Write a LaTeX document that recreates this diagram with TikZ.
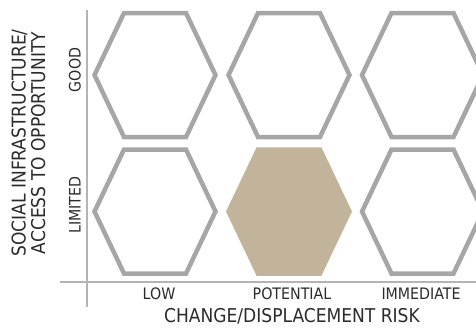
\documentclass[tikz,border=0pt]{standalone}
\usepackage{fontspec}
\setmainfont{DejaVu Sans Condensed}
\definecolor{hexgrey}{HTML}{A6A6A6}
\definecolor{axisgrey}{HTML}{B4B4B4}
\definecolor{sand}{HTML}{C2B49A}
\definecolor{ink}{HTML}{2B2B2B}
\begin{document}
\begin{tikzpicture}[x=1pt,y=-1pt]

% half width, half height and half top edge of each hexagon
\def\hw{60.5}
\def\hh{62}
\def\ht{31}
% hexagon and axis styles
\tikzstyle{hexline} = [draw=hexgrey, line width=4.5pt, line join=miter];
\tikzstyle{hexfull} = [hexline, draw=sand, fill=sand];
\tikzstyle{axis} = [draw=axisgrey, line width=2pt];
\tikzstyle{lbl} = [text=ink, inner sep=0pt, anchor=base, font=\fontsize{15.8}{18}\selectfont];
\tikzstyle{title} = [text=ink, inner sep=0pt, anchor=base, font=\fontsize{19}{22}\selectfont];

\useasboundingbox (0,0) rectangle (476,333);

% axes
\coordinate (ytop) at (87,10);
\coordinate (ybot) at (87,307);
\coordinate (xleft) at (60,282);
\coordinate (xright) at (476,282);
\draw[axis] (ytop) -- (ybot);
\draw[axis] (xleft) -- (xright);

% grid of hexagons
\foreach \cx/\cy/\st in {155/75/hexline, 289/75/hexline, 422.5/75/hexline,
                         155/211.5/hexline, 289/211.5/hexfull, 422.5/211.5/hexline}
  \draw[\st] ({\cx-\hw},\cy) -- ({\cx-\ht},{\cy-\hh}) -- ({\cx+\ht},{\cy-\hh})
    -- ({\cx+\hw},\cy) -- ({\cx+\ht},{\cy+\hh}) -- ({\cx-\ht},{\cy+\hh}) -- cycle;

% labels (placed on their baselines)
\node[lbl,rotate=90] (good) at (80.5,70) {GOOD};
\node[lbl,rotate=90] (limited) at (80.5,205) {LIMITED};
\node[lbl] (low) at (159,299.5) {LOW};
\node[lbl] (potential) at (292,299.5) {POTENTIAL};
\node[lbl] (immediate) at (421,299.5) {IMMEDIATE};
\node[title] (xtitle) at (292,322) {CHANGE/DISPLACEMENT RISK};
\node[title,rotate=90] (ytitle1) at (25.5,143) {SOCIAL INFRASTRUCTURE/};
\node[title,rotate=90] (ytitle2) at (45,143) {ACCESS TO OPPORTUNITY};

\end{tikzpicture}
\end{document}
